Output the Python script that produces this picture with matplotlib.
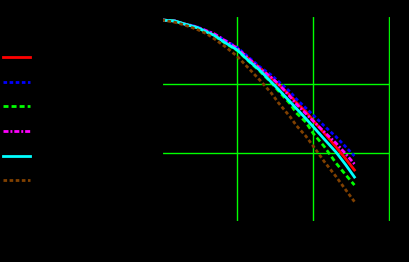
import matplotlib
matplotlib.use("Agg")
import matplotlib.pyplot as plt

# shared x samples (log scale)
freq = [1, 1.5, 2, 2.5, 3, 4, 5, 7, 10, 14, 20, 28, 35, 50, 60, 80, 100, 140, 200, 270, 350]

# one series per legend entry
red_vals = [0.874, 0.845, 0.764, 0.714, 0.674, 0.583, 0.527, 0.410, 0.326, 0.239, 0.173,
            0.126, 0.0994, 0.0686, 0.0542, 0.0400, 0.0296, 0.0194, 0.0122, 0.00808, 0.00558]
blue_vals = [0.874, 0.845, 0.764, 0.726, 0.690, 0.603, 0.545, 0.438, 0.346, 0.251, 0.179,
             0.137, 0.110, 0.0772, 0.0610, 0.0450, 0.0356, 0.0246, 0.0171, 0.0121, 0.00894]
green_vals = [0.874, 0.845, 0.764, 0.714, 0.668, 0.574, 0.510, 0.396, 0.311, 0.220, 0.154,
              0.106, 0.0798, 0.0515, 0.0381, 0.0281, 0.0192, 0.0123, 0.00706, 0.00471, 0.00336]
magenta_vals = [0.874, 0.845, 0.764, 0.726, 0.679, 0.603, 0.545, 0.431, 0.337, 0.239, 0.168,
                0.126, 0.101, 0.0653, 0.0515, 0.0374, 0.0291, 0.0201, 0.0138, 0.00956, 0.00683]
cyan_vals = [0.874, 0.845, 0.764, 0.714, 0.674, 0.579, 0.518, 0.403, 0.318, 0.223, 0.159,
             0.108, 0.0840, 0.0551, 0.0443, 0.0316, 0.0240, 0.0158, 0.0102, 0.00660, 0.00440]
brown_vals = [0.874, 0.809, 0.738, 0.679, 0.630, 0.545, 0.461, 0.352, 0.256, 0.173, 0.114,
              0.0747, 0.0533, 0.0332, 0.0250, 0.0175, 0.0125, 0.00742, 0.00448, 0.00284, 0.00192]

labels = ["series 1", "series 2", "series 3", "series 4", "series 5", "series 6"]

series = [
    (red_vals, "#ff0000", "-"),
    (blue_vals, "#0000ff", (0, (1.3, 0.9))),
    (green_vals, "#00ff00", (0, (1.8, 1.1))),
    (magenta_vals, "#ff00ff", (0, (1.8, 0.7, 0.7, 0.7))),
    (cyan_vals, "#00ffff", "-"),
    (brown_vals, "#804000", (0, (1.3, 0.9))),
]

fig = plt.figure(figsize=(4.09, 2.62), dpi=100, facecolor="black")
ax = fig.add_axes([161.5 / 409, 1 - 221 / 262, (390 - 161.5) / 409, (221 - 16) / 262])
ax.set_facecolor("black")

for (vals, color, ls), lab in zip(series, labels):
    ax.plot(freq, vals, color=color, linestyle=ls, linewidth=2, label=lab)

ax.set_xscale("log")
ax.set_yscale("log")
ax.set_xlim(1.001, 1031)
ax.set_ylim(1.001e-3, 0.999)
ax.grid(True, which="major", color="#00ff00", linewidth=1.0)
ax.minorticks_off()

for spine in ax.spines.values():
    spine.set_color("black")
ax.tick_params(colors="black", labelcolor="black")

handles, labs = ax.get_legend_handles_labels()
leg = fig.legend(handles, labs, loc="upper left", bbox_to_anchor=(3 / 409, 1 - 50.8 / 262),
                 frameon=False, fontsize=10, borderpad=0, borderaxespad=0,
                 labelspacing=0.77, handlelength=1.94, handletextpad=0.5)
for t in leg.get_texts():
    t.set_color("black")

fig.savefig("out.png", dpi=100, facecolor="black")
